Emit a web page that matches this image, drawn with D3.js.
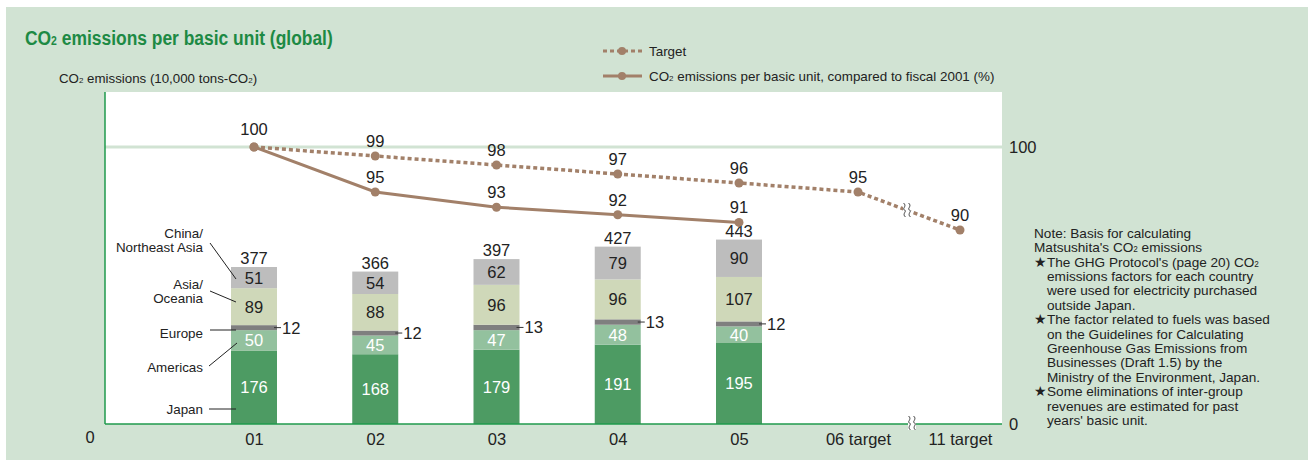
<!DOCTYPE html>
<html lang="en">
<head>
<meta charset="UTF-8">
<title>CO2 emissions per basic unit (global)</title>
<script src="https://d3js.org/d3.v7.min.js"></script>
<style>
  body { margin: 0; background: #fff; }
  svg { display: block; font-family: "Liberation Sans", Arial, sans-serif; }
  .val { font-size: 16.5px; }
  .lbl { font-size: 13.4px; fill: #222; }
  .note { font-size: 13.6px; fill: #222; }
</style>
</head>
<body>
<script>
// data
const categories = ["01", "02", "03", "04", "05", "06 target", "11 target"];
const regions = ["japan", "americas", "europe", "asia", "china"];
const japan = [176, 168, 179, 191, 195];
const americas = [50, 45, 47, 48, 40];
const europe = [12, 12, 13, 13, 12];
const asia = [89, 88, 96, 96, 107];
const china = [51, 54, 62, 79, 90];
const totals = [377, 366, 397, 427, 443];
const actualPct = [100, 95, 93, 92, 91];
const targetPct = [100, 99, 98, 97, 96, 95, 90];

const colors = { japan: "#4d9b63", americas: "#93c19e", europe: "#7f7f7f", asia: "#cfd8b9", china: "#bdbdbd" };
const textColors = { japan: "#fff", americas: "#fff", asia: "#222", china: "#222" };
const brown = "#a28069";
const green = "#1f9a4c";
const bg = "#d1e3d3";

const W = 1308, H = 460;
const plot = { left: 105, right: 1002, top: 92, bottom: 424 };

const svg = d3.select("body").append("svg").attr("width", W).attr("height", H);

// write text with a small "2" for CO₂
function co2Text(sel, str) {
  const parts = str.split("₂");
  parts.forEach((p, i) => {
    sel.append("tspan").text(p);
    if (i < parts.length - 1) sel.append("tspan").attr("font-size", "0.6em").text("2");
  });
  return sel;
}

svg.append("rect").attr("x", 6).attr("y", 7).attr("width", W - 6).attr("height", H - 7).attr("fill", bg);

// title, squeezed horizontally like a condensed face
const title = co2Text(svg.append("text").attr("x", 0).attr("y", 0)
  .attr("fill", "#1d8a44").attr("font-size", 21).attr("font-weight", "bold"), "CO₂ emissions per basic unit (global)");
const tw = title.node().getComputedTextLength();
title.attr("transform", `translate(25,45) scale(${308 / tw},1)`);

co2Text(svg.append("text").attr("x", 59).attr("y", 83).attr("font-size", 13.3).attr("fill", "#222"),
  "CO₂ emissions (10,000 tons-CO₂)");

// plot area
svg.append("rect").attr("x", plot.left).attr("y", plot.top)
  .attr("width", plot.right - plot.left).attr("height", plot.bottom - plot.top).attr("fill", "#fff");

const x = d3.scaleLinear().domain([0, 4, 5, 6]).range([254, 739, 858, 960]);
const yBar = d3.scaleLinear().domain([0, 443]).range([plot.bottom, 240]);
const yPct = d3.scaleLinear().domain([90, 95, 100]).range([230, 192, 147]);
const barW = 46;

// 100% reference line
svg.append("line").attr("x1", plot.left).attr("x2", plot.right)
  .attr("y1", yPct(100)).attr("y2", yPct(100)).attr("stroke", bg).attr("stroke-width", 3);

// stacked bars
const rows = totals.map((t, i) => ({ i, japan: japan[i], americas: americas[i], europe: europe[i], asia: asia[i], china: china[i] }));
const series = d3.stack().keys(regions)(rows);

const g = svg.append("g");
series.forEach(s => {
  g.selectAll(null).data(s).join("rect")
    .attr("x", d => x(d.data.i) - barW / 2)
    .attr("y", d => yBar(d[1]))
    .attr("width", barW)
    .attr("height", d => yBar(d[0]) - yBar(d[1]))
    .attr("fill", colors[s.key]);

  if (s.key === "europe") {
    g.selectAll(null).data(s).join("line")
      .attr("x1", d => x(d.data.i) + barW / 2 - 3).attr("x2", d => x(d.data.i) + barW / 2 + 4)
      .attr("y1", d => yBar((d[0] + d[1]) / 2)).attr("y2", d => yBar((d[0] + d[1]) / 2))
      .attr("stroke", "#333").attr("stroke-width", 1);
    g.selectAll(null).data(s).join("text").attr("class", "val")
      .attr("x", d => x(d.data.i) + barW / 2 + 5)
      .attr("y", d => yBar((d[0] + d[1]) / 2)).attr("dy", "0.36em")
      .attr("fill", "#222").text(d => d.data.europe);
  } else {
    g.selectAll(null).data(s).join("text").attr("class", "val")
      .attr("x", d => x(d.data.i)).attr("text-anchor", "middle")
      .attr("y", d => yBar((d[0] + d[1]) / 2)).attr("dy", "0.36em")
      .attr("fill", textColors[s.key]).text(d => d.data[s.key]);
  }
});

g.selectAll(null).data(totals).join("text").attr("class", "val")
  .attr("x", (d, i) => x(i)).attr("y", (d, i) => yBar(d3.sum(series, s => s[i][1] - s[i][0])) - 3)
  .attr("text-anchor", "middle").attr("fill", "#222").text(d => d);

// axes lines
svg.append("line").attr("x1", plot.left).attr("x2", plot.left).attr("y1", plot.top).attr("y2", plot.bottom)
  .attr("stroke", green).attr("stroke-width", 1.5);
svg.append("line").attr("x1", plot.left).attr("x2", plot.right).attr("y1", plot.bottom).attr("y2", plot.bottom)
  .attr("stroke", green).attr("stroke-width", 1.5);

const xAxis = svg.append("g").attr("transform", `translate(0,${plot.bottom})`)
  .call(d3.axisBottom(x).tickValues(d3.range(categories.length)).tickFormat(i => categories[i]).tickSize(0).tickPadding(9));
xAxis.select(".domain").remove();
xAxis.selectAll("text").attr("font-size", 16.5).attr("font-family", "Liberation Sans, Arial, sans-serif").attr("fill", "#222");

svg.append("text").attr("class", "val").attr("x", 90).attr("y", 437).attr("dy", "0.36em").attr("text-anchor", "middle").attr("fill", "#222").text("0");
svg.append("text").attr("class", "val").attr("x", 1009).attr("y", plot.bottom).attr("dy", "0.36em").attr("fill", "#222").text("0");
svg.append("text").attr("class", "val").attr("x", 1009).attr("y", yPct(100)).attr("dy", "0.36em").attr("fill", "#222").text("100");

// lines
const pctLine = d3.line().x((d, i) => x(i)).y(d => yPct(d));
svg.append("path").datum(targetPct).attr("d", pctLine)
  .attr("fill", "none").attr("stroke", brown).attr("stroke-width", 3.5).attr("stroke-dasharray", "4,3");
svg.append("path").datum(actualPct).attr("d", pctLine)
  .attr("fill", "none").attr("stroke", brown).attr("stroke-width", 3);

svg.selectAll(null).data(targetPct).join("circle")
  .attr("cx", (d, i) => x(i)).attr("cy", d => yPct(d)).attr("r", 4.5).attr("fill", brown);
svg.selectAll(null).data(actualPct).join("circle")
  .attr("cx", (d, i) => x(i)).attr("cy", d => yPct(d)).attr("r", 4.5).attr("fill", brown);

svg.selectAll(null).data(targetPct).join("text").attr("class", "val")
  .attr("x", (d, i) => x(i)).attr("y", (d, i) => yPct(d) - (i === 0 ? 12 : 9))
  .attr("text-anchor", "middle").attr("fill", "#222").text(d => d);
svg.selectAll(null).data(actualPct.slice(1)).join("text").attr("class", "val")
  .attr("x", (d, i) => x(i + 1)).attr("y", d => yPct(d) - 9)
  .attr("text-anchor", "middle").attr("fill", "#222").text(d => d);

// break marks
function breakMark(cx, cy) {
  const b = svg.append("g").attr("transform", `translate(${cx},${cy})`);
  b.append("rect").attr("x", -4).attr("y", -7).attr("width", 8).attr("height", 14).attr("fill", "#fff");
  [-2.5, 2.5].forEach(dx => {
    b.append("path").attr("d", `M${dx - 1},-7 C${dx + 3},-4 ${dx - 3},-1 ${dx},0 C${dx + 3},1 ${dx - 3},4 ${dx + 1},7`)
      .attr("fill", "none").attr("stroke", "#333").attr("stroke-width", 0.9);
  });
}
breakMark(907, 210);
breakMark(912, 423);

// region labels beside the first bar
const bx = x(0) - barW / 2;
const leaders = [
  { lines: ["China/", "Northeast Asia"], ty: 233, x1: 210, y1: 243, x2: bx + 5, y2: 279 },
  { lines: ["Asia/", "Oceania"], ty: 284, x1: 210, y1: 291, x2: bx + 5, y2: 302 },
  { lines: ["Europe"], ty: 333, x1: 210, y1: 330, x2: bx + 5, y2: 330 },
  { lines: ["Americas"], ty: 367, x1: 209, y1: 366, x2: bx + 6, y2: 343 },
  { lines: ["Japan"], ty: 409, x1: 209, y1: 409, x2: bx + 5, y2: 409 }
];
leaders.forEach(l => {
  const t = svg.append("text").attr("class", "lbl").attr("text-anchor", "end");
  l.lines.forEach((s, k) => t.append("tspan").attr("x", 203).attr("y", l.ty + k * 14).attr("dy", "0.36em").text(s));
  svg.append("line").attr("x1", l.x1).attr("y1", l.y1).attr("x2", l.x2).attr("y2", l.y2)
    .attr("stroke", "#222").attr("stroke-width", 1);
});

// legend
const legendRows = [
  { y: 51, dash: "4,3", label: "Target" },
  { y: 76, dash: null, label: "CO₂ emissions per basic unit, compared to fiscal 2001 (%)" }
];
legendRows.forEach(r => {
  svg.append("line").attr("x1", 603).attr("x2", 642).attr("y1", r.y).attr("y2", r.y)
    .attr("stroke", brown).attr("stroke-width", 3).attr("stroke-dasharray", r.dash);
  svg.append("circle").attr("cx", 622).attr("cy", r.y).attr("r", 4).attr("fill", brown);
  co2Text(svg.append("text").attr("class", "lbl").attr("x", 649).attr("y", r.y).attr("dy", "0.36em"), r.label);
});

// note
const noteLines = [
  ["", "Note: Basis for calculating"],
  ["", "Matsushita's CO₂ emissions"],
  ["★", "The GHG Protocol's (page 20) CO₂"],
  ["", "emissions factors for each country"],
  ["", "were used for electricity purchased"],
  ["", "outside Japan."],
  ["★", "The factor related to fuels was based"],
  ["", "on the Guidelines for Calculating"],
  ["", "Greenhouse Gas Emissions from"],
  ["", "Businesses (Draft 1.5) by the"],
  ["", "Ministry of the Environment, Japan."],
  ["★", "Some eliminations of inter-group"],
  ["", "revenues are estimated for past"],
  ["", "years' basic unit."]
];
noteLines.forEach((l, k) => {
  const y = 233 + k * 14.4;
  const indent = k < 2 ? 1034 : 1047;
  if (l[0]) svg.append("text").attr("class", "note").attr("x", 1034).attr("y", y).attr("dy", "0.36em")
    .attr("font-size", 10).text(l[0]);
  co2Text(svg.append("text").attr("class", "note").attr("x", indent).attr("y", y).attr("dy", "0.36em"), l[1]);
});
</script>
</body>
</html>
